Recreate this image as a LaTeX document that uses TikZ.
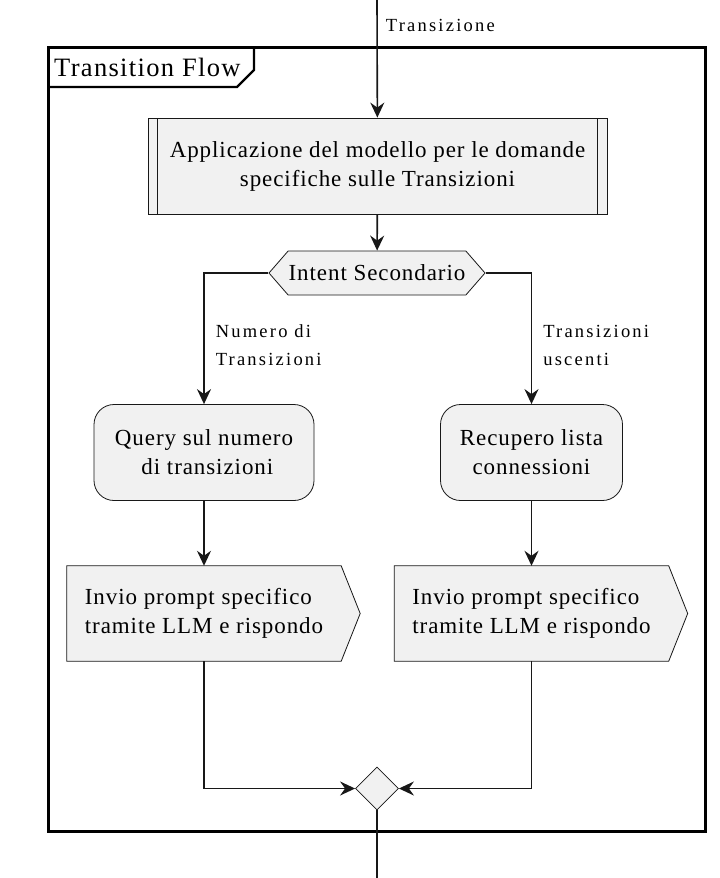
\documentclass[tikz,border=0pt]{standalone}
\usepackage{fontspec}
\setmainfont{Liberation Serif}
\newfontfamily\boxfont[LetterSpace=4]{Liberation Serif}
\newfontfamily\lblfont[LetterSpace=12]{Liberation Serif}
\newfontfamily\titlefont[LetterSpace=5]{Liberation Serif}
\usetikzlibrary{positioning,arrows.meta,shapes.geometric,shapes.symbols,backgrounds}
\definecolor{actfill}{HTML}{F1F1F1}
\definecolor{actline}{HTML}{181818}
\tikzstyle{arrow} = [line width=1.6pt,draw=actline,-{Stealth[length=15pt,width=14pt,inset=5pt]}]
\tikzstyle{line} = [line width=1.6pt,draw=actline]
\tikzstyle{lbl} = [inner sep=0pt,align=left,font=\fontsize{18.5}{28}\selectfont\lblfont]

\begin{document}
\begin{tikzpicture}[x=1pt,y=-1pt]
\tikzstyle{boxtext} = [font=\fontsize{23}{29}\selectfont\boxfont]
\tikzstyle{actbox} = [boxtext,draw=actline,fill=actfill,line width=0.8pt,rounded corners=20pt,minimum height=96pt,align=center]
\tikzstyle{subbox} = [boxtext,draw=actline,fill=actfill,line width=0.8pt,minimum width=459pt,minimum height=96pt,align=center,
  path picture={\draw[actline,line width=0.8pt] ([xshift=9.5pt]path picture bounding box.north west) -- ([xshift=9.5pt]path picture bounding box.south west);
                \draw[actline,line width=0.8pt] ([xshift=-9.5pt]path picture bounding box.north east) -- ([xshift=-9.5pt]path picture bounding box.south east);}]
\tikzstyle{choice} = [boxtext,draw=actline,fill=actfill,line width=0.8pt,signal,signal to=west and east,signal pointer angle=98,minimum width=216pt,minimum height=44pt,inner sep=0pt]
\tikzstyle{sendbox} = [boxtext,minimum width=274pt,minimum height=95pt,inner xsep=0pt,align=left]
\tikzstyle{sendshape} = [draw=actline,fill=actfill,line width=0.8pt]
\tikzstyle{merge} = [draw=actline,fill=actfill,line width=0.8pt,diamond,minimum width=43pt,minimum height=43pt,inner sep=0pt]

\useasboundingbox (0,0) rectangle (720,878);

% frame
\draw[line width=3pt] (48,47) rectangle (705,831);
\draw[line width=2.2pt] (48,87) -- (237,87) -- (254,70) -- (254,47);
\node[inner sep=0pt,anchor=base west,font=\fontsize{26.5}{30}\selectfont\titlefont] (title) at (54,76) {Transition Flow};

\coordinate (entry) at (377,0);
\coordinate (exit) at (377,878);
\node[subbox] (app) at (377.5,166) {Applicazione del modello per le domande\\specifiche sulle Transizioni};
\node[choice] (intent) at (377,273) {Intent Secondario};
\node[actbox,minimum width=220pt] (query) at (204,452.5) {Query sul numero\\\ di transizioni};
\node[actbox,minimum width=182pt] (recup) at (531.5,452.5) {Recupero lista\\connessioni};
\node[sendbox] (send1) at (204,613.5) {Invio prompt specifico\\tramite LLM e rispondo};
\node[sendbox] (send2) at (531.5,613.5) {Invio prompt specifico\\tramite LLM e rispondo};
\node[merge] (join) at (377,788.5) {};

\begin{scope}[on background layer]
\filldraw[sendshape] (send1.north west) -- (send1.north east) -- ([xshift=19pt]send1.east) -- (send1.south east) -- (send1.south west) -- cycle;
\filldraw[sendshape] (send2.north west) -- (send2.north east) -- ([xshift=19pt]send2.east) -- (send2.south east) -- (send2.south west) -- cycle;
\end{scope}

\draw[arrow] (entry) -- node[lbl,anchor=base west,xshift=8pt,pos=0.265] {Transizione} (app);
\draw[arrow] (app) -- (intent);
\draw[arrow] (intent.west) -| node[lbl,anchor=west,xshift=11pt,pos=0.775] {Numero di\\Transizioni} (query.north);
\draw[arrow] (intent.east) -| node[lbl,anchor=west,xshift=11pt,pos=0.775] {Transizioni\\uscenti} (recup.north);
\draw[arrow] (query) -- (send1);
\draw[arrow] (recup) -- (send2);
\draw[arrow] (send1.south) |- (join.west);
\draw[arrow] (send2.south) |- (join.east);
\draw[line] (join.south) -- (exit);
\end{tikzpicture}
\end{document}
